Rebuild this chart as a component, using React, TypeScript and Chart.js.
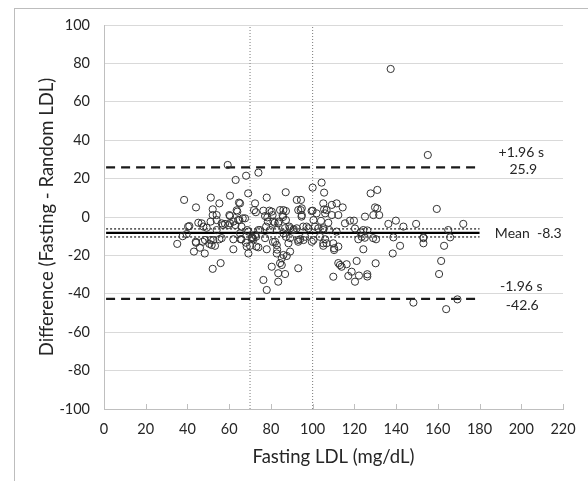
import React, { useEffect, useRef } from "react";
import { Chart, registerables } from "chart.js";

Chart.register(...registerables);

// Fasting LDL (mg/dL) and difference (Fasting - Random LDL)
const fastingLDL: number[] = [
  35.1, 37.7, 39.6, 38.4, 40.3, 43.1, 44.0, 46.0, 47.3, 48.3,
  50.5, 51.1, 53.2, 52.1, 55.3, 55.9, 62.0, 65.5, 68.0, 69.2,
  70.0, 71.3, 72.9, 74.0, 76.4, 78.0, 77.2, 78.0, 80.4, 82.0,
  82.8, 83.5, 83.5, 84.4, 85.2, 86.8, 86.0, 87.6, 89.2, 87.2,
  93.1, 93.1, 59.3, 63.1, 68.1, 74.0, 87.1, 60.4, 64.7, 69.1,
  72.4, 78.0, 51.2, 55.3, 44.1, 52.1, 52.1, 54.0, 46.8, 45.2,
  40.9, 49.2, 51.1, 54.0, 58.0, 60.1, 60.4, 62.0, 63.9, 64.9,
  66.5, 71.9, 72.8, 76.4, 77.2, 79.3, 78.5, 80.8, 84.4, 86.0,
  85.6, 83.8, 81.8, 88.8, 87.2, 92.4, 93.1, 90.7, 74.0, 68.7,
  65.2, 71.6, 62.0, 54.0, 44.1, 48.4, 56.4, 52.4, 51.6, 65.9,
  65.9, 69.2, 70.8, 72.4, 74.8, 77.7, 79.6, 82.8, 86.0, 89.2,
  92.4, 97.1, 82.8, 88.4, 89.2, 93.1, 96.4, 100.4, 106.7, 110.3,
  112.3, 105.1, 111.5, 65.2, 78.3, 81.2, 83.5, 47.6, 60.4, 59.6,
  64.3, 56.4, 94.3, 94.7, 101.9, 99.5, 87.2, 106.7, 111.5, 100.0,
  104.3, 105.5, 94.4, 94.8, 94.8, 100.0, 105.1, 105.5, 106.0, 109.2,
  112.3, 114.4, 115.5, 117.9, 119.8, 125.1, 127.8, 131.0, 129.9, 131.0,
  129.1, 131.9, 136.3, 139.9, 143.5, 149.6, 159.5, 165.0, 172.2, 153.1,
  95.5, 101.1, 102.7, 105.1, 108.0, 124.3, 123.5, 121.9, 130.4, 138.7,
  141.9, 153.1, 163.0, 165.9, 94.0, 99.6, 105.1, 109.9, 112.3, 105.1,
  106.0, 110.3, 109.9, 113.1, 113.9, 116.3, 117.1, 118.7, 120.3, 121.1,
  122.2, 124.3, 126.2, 126.2, 130.2, 138.4, 148.3, 160.6, 161.6, 164.0,
  169.4, 137.4, 155.2, 57.0, 63.0, 68.4, 73.0, 63.6, 67.6, 71.0,
  80.4, 85.8, 86.8, 91.0, 98.0, 100.4, 95.6, 85.2, 81.0, 83.0,
  103.5, 109.2, 104.0, 107.5, 120.3, 123.0, 126.2, 125.0, 129.0, 153.1,
];

const difference: number[] = [
  -14.0, -10.0, -8.9, 8.9, -5.0, -18.0, -12.9, -16.0, -12.9, -19.0,
  -14.0, -12.0, -15.0, -27.0, -11.6, -24.0, -16.8, -11.6, -13.4, -19.0,
  -15.0, -11.0, -10.3, -15.8, -32.8, -38.0, -11.0, -16.8, -25.9, -12.9,
  -19.0, -29.3, -33.7, -24.0, -21.5, -29.7, -19.8, -20.3, -18.0, -10.3,
  -26.7, -12.9, 27.1, 19.3, 21.5, 23.1, 12.9, 11.1, 7.5, 12.3,
  7.1, 10.1, 10.1, 7.1, 5.0, 4.0, 1.0, 1.0, -3.3, -3.0,
  -4.7, -5.6, -2.4, -1.6, -3.6, 1.0, -3.3, -2.4, 2.8, -1.6,
  -0.7, 3.6, 2.5, 3.3, 0.5, 3.3, -2.4, 1.0, 3.6, 3.6,
  1.0, -2.4, -3.0, -5.0, -1.6, 8.9, 3.6, -6.8, -6.8, -6.8,
  -8.5, -11.6, -11.6, -6.8, -13.4, -12.0, -11.0, -12.0, -14.6, -11.6,
  -5.0, -7.6, -11.1, -9.4, -6.8, -5.0, -6.8, -6.8, -8.5, -5.9,
  -5.9, -5.0, -14.6, -13.7, -11.0, -12.0, -10.3, -12.0, -13.7, -17.2,
  -24.0, -5.9, -7.6, 7.1, -0.2, -2.4, -3.3, -5.0, 0.5, -4.2,
  -1.6, -3.3, 3.6, 0.2, 1.9, 3.1, 3.1, 3.6, 7.1, 15.3,
  17.9, 12.7, 8.9, 4.5, 1.0, 3.3, 7.1, 4.0, 1.9, 6.3,
  1.0, 5.0, -3.3, -1.9, -1.9, 0.2, 12.3, 14.1, 5.0, 4.5,
  1.0, 1.0, -3.6, -1.9, -5.0, -3.6, 4.2, -6.8, -3.6, -10.6,
  -5.0, -5.0, -5.9, -6.8, -6.8, -6.8, -10.3, -11.6, -11.6, -10.6,
  -15.0, -13.7, -15.0, -10.6, -11.6, -12.9, -13.7, -13.7, -15.4, -15.0,
  -11.6, -16.3, -31.1, -25.0, -25.9, -24.6, -30.7, -28.5, -33.7, -22.9,
  -30.5, -16.8, -29.8, -31.0, -24.1, -19.0, -44.6, -29.7, -22.9, -48.0,
  -42.9, 77.1, 32.3, -4.2, -4.2, -15.4, -15.4, 3.5, -0.7, -10.5,
  2.8, 0.0, -5.8, -6.4, -5.9, -1.6, -12.0, -25.0, -13.0, -17.0,
  -10.3, 1.0, -2.0, -3.0, -6.0, -8.0, -7.0, -10.8, -11.0, -11.0,
];

const xTicksMin = 0;
const xTicksMax = 220;
const xTickStep = 20;
const yTicksMin = -100;
const yTicksMax = 100;
const yTickStep = 20;

const meanDiff = -8.3;
const upperLoA = 25.9;
const lowerLoA = -42.6;
const meanCIUpper = -6.2;
const meanCILower = -10.4;
const refLineStart = 1;
const refLineEnd = 180;
const cutoffLines: number[] = [70, 100];
const labelX = 200;

const FONT = "Lato, 'Open Sans', sans-serif";
const TEXT = "#262626";

const hLine = (v: number) => [
  { x: refLineStart, y: v },
  { x: refLineEnd, y: v },
];
const vLine = (v: number) => [
  { x: v, y: yTicksMin },
  { x: v, y: yTicksMax },
];

const labelPlugin = {
  id: "baLabels",
  afterDatasetsDraw(chart: any) {
    const { ctx, scales } = chart;
    const xs = scales.x;
    const ys = scales.y;
    ctx.save();
    // inside tick marks on x axis
    ctx.strokeStyle = "#bfbfbf";
    ctx.lineWidth = 1;
    const bottom = chart.chartArea.bottom;
    for (let v = xTicksMin; v <= xTicksMax; v += xTickStep) {
      const px = Math.round(xs.getPixelForValue(v)) + 0.5;
      ctx.beginPath();
      ctx.moveTo(px, bottom);
      ctx.lineTo(px, bottom - 5);
      ctx.stroke();
    }
    ctx.fillStyle = TEXT;
    ctx.font = `14px ${FONT}`;
    ctx.textAlign = "center";
    ctx.textBaseline = "middle";
    const cx = xs.getPixelForValue(labelX);
    const yu = ys.getPixelForValue(upperLoA);
    ctx.fillText("+1.96 s", cx, yu - 15);
    ctx.fillText(upperLoA.toFixed(1), cx + 2, yu + 2);
    const ym = ys.getPixelForValue(meanDiff);
    ctx.fillText(`Mean  ${meanDiff.toFixed(1)}`, cx + 7, ym + 1);
    const yl = ys.getPixelForValue(lowerLoA);
    ctx.fillText("-1.96 s", cx, yl - 12);
    ctx.fillText(lowerLoA.toFixed(1), cx + 1, yl + 7);
    ctx.restore();
  },
};

export default function App() {
  const ref = useRef<HTMLCanvasElement | null>(null);

  useEffect(() => {
    if (!ref.current) return;
    const points = fastingLDL.map((x, i) => ({ x, y: difference[i] }));
    const lineDs = (data: any, color: string, width: number, dash: number[]) => ({
      type: "line" as const,
      data,
      borderColor: color,
      borderWidth: width,
      borderDash: dash,
      pointRadius: 0,
      fill: false,
      showLine: true,
      tension: 0,
    });
    const chart = new Chart(ref.current, {
      type: "scatter",
      data: {
        datasets: [
          {
            type: "scatter",
            data: points,
            pointRadius: 3.6,
            pointBorderWidth: 1,
            pointBackgroundColor: "rgba(0,0,0,0)",
            pointBorderColor: "#333333",
          } as any,
          lineDs(hLine(meanDiff), "#000000", 2.25, []),
          lineDs(hLine(meanCIUpper), "#222222", 1.25, [2, 2]),
          lineDs(hLine(meanCILower), "#222222", 1.25, [2, 2]),
          lineDs(hLine(upperLoA), "#1a1a1a", 2.25, [9, 6]),
          lineDs(hLine(lowerLoA), "#1a1a1a", 2.25, [9, 6]),
          ...cutoffLines.map((c) => lineDs(vLine(c), "#7a7a7a", 1, [1, 2])),
        ],
      },
      options: {
        animation: false,
        responsive: false,
        devicePixelRatio: 1,
        layout: { padding: { top: 25, right: 25, bottom: 0, left: 0 } },
        plugins: {
          legend: { display: false },
          tooltip: { enabled: false },
        },
        scales: {
          x: {
            type: "linear",
            min: xTicksMin,
            max: xTicksMax,
            ticks: {
              stepSize: xTickStep,
              color: TEXT,
              font: { family: FONT, size: 14.5 },
              padding: 12,
              maxRotation: 0,
            },
            grid: { display: false, drawTicks: false },
            border: { display: true, color: "#bfbfbf", width: 1 },
            title: {
              display: true,
              text: "Fasting LDL (mg/dL)",
              color: TEXT,
              font: { family: FONT, size: 18.5 },
              padding: { top: 0, bottom: 13 },
            },
            afterFit: (s: any) => {
              s.height = 72;
            },
          },
          y: {
            type: "linear",
            min: yTicksMin,
            max: yTicksMax,
            ticks: {
              stepSize: yTickStep,
              color: TEXT,
              font: { family: FONT, size: 14.5 },
              padding: 14,
            },
            grid: { color: "#d9d9d9", lineWidth: 1, drawTicks: false },
            border: { display: true, color: "#bfbfbf", width: 1 },
            title: {
              display: true,
              text: "Difference (Fasting - Random LDL)",
              color: TEXT,
              font: { family: FONT, size: 18.5 },
              padding: { top: 36, bottom: 0 },
            },
            afterFit: (s: any) => {
              s.width = 104;
            },
          },
        },
      } as any,
      plugins: [labelPlugin],
    });
    return () => chart.destroy();
  }, []);

  return (
    <>
      <div
        style={{
          position: "fixed",
          left: 14,
          top: 8,
          width: 600,
          height: 500,
          borderTop: "1px solid #bdbdbd",
          borderLeft: "1px solid #bdbdbd",
          boxSizing: "border-box",
          pointerEvents: "none",
        }}
      />
      <canvas
        ref={ref}
        width={588}
        height={481}
        style={{ position: "fixed", left: 0, top: 0, width: 588, height: 481 }}
      />
    </>
  );
}
